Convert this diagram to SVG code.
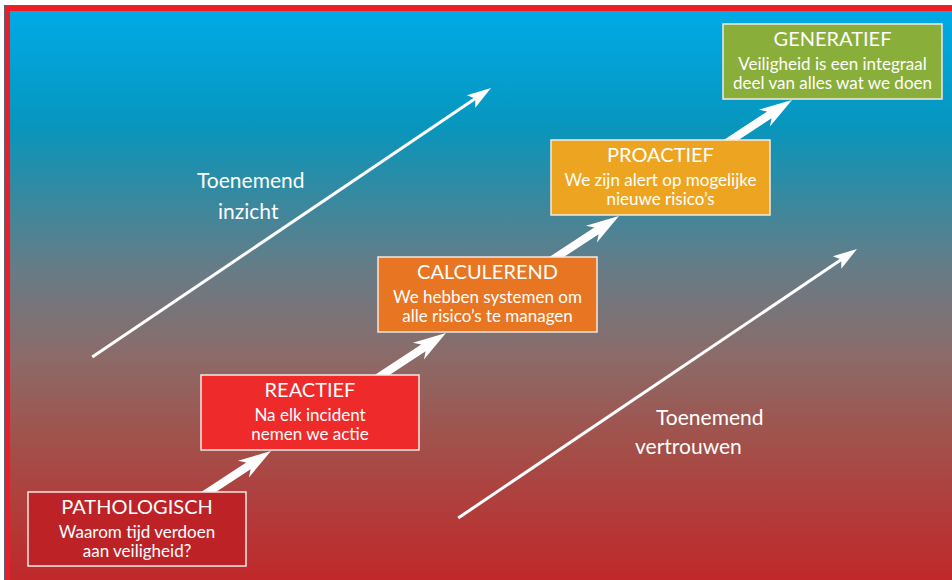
<svg xmlns="http://www.w3.org/2000/svg" xmlns:xlink="http://www.w3.org/1999/xlink" width="952" height="580" viewBox="0 0 952 580">
  <defs>
    <linearGradient id="bg" x1="0" y1="11" x2="0" y2="580" gradientUnits="userSpaceOnUse">
      <stop offset="0" stop-color="#00AAE6"/>
      <stop offset="0.2" stop-color="#0796BE"/>
      <stop offset="0.3" stop-color="#2C8CA5"/>
      <stop offset="0.45" stop-color="#667C87"/>
      <stop offset="0.6" stop-color="#8A6C6A"/>
      <stop offset="0.76" stop-color="#A3504A"/>
      <stop offset="1" stop-color="#C0282A"/>
    </linearGradient>
    <polygon id="thick" points="-90,-4 -27,-4 -33,-10 0,0 -33,10 -27,4 -90,4" fill="#FFFFFF"/>
    <g id="thin">
      <line x1="-481" y1="0" x2="-18" y2="0" stroke="#FFFFFF" stroke-width="3"/>
      <polygon points="0,0 -24,-7.5 -19,0 -24,7.5" fill="#FFFFFF"/>
    </g>
  </defs>
  <style>
    .box { stroke: #F3E9E4; stroke-width: 1.5; }
    .title { font-family: Lato, "Liberation Sans", sans-serif; font-size: 20px; fill: #FFFFFF; text-anchor: middle; }
    .sub { font-family: Lato, "Liberation Sans", sans-serif; font-size: 17px; fill: #FFFFFF; text-anchor: middle; }
    .lbl { font-family: Lato, "Liberation Sans", sans-serif; font-size: 21px; fill: #FFFFFF; }
  </style>

  <rect x="0" y="0" width="952" height="580" fill="#FFFFFF"/>
  <rect x="4" y="5" width="948" height="575" fill="#EE1C25"/>
  <path d="M4.5,580 V5.5 H952" fill="none" stroke="#5A6078" stroke-width="1"/>
  <rect x="10" y="11" width="942" height="569" fill="url(#bg)"/>

  <g id="connectors">
    <use xlink:href="#thin" transform="translate(491,88) rotate(-34)"/>
    <use xlink:href="#thin" transform="translate(857,249) rotate(-34)"/>
    <use xlink:href="#thick" transform="translate(271,451) rotate(-33.3)"/>
    <use xlink:href="#thick" transform="translate(446,333) rotate(-33.3)"/>
    <use xlink:href="#thick" transform="translate(619,216) rotate(-33.3)"/>
    <use xlink:href="#thick" transform="translate(792,100) rotate(-33.3)"/>
  </g>

  <g id="label-inzicht">
    <text class="lbl" x="197" y="188">Toenemend</text>
    <text class="lbl" x="218" y="219">inzicht</text>
  </g>
  <g id="label-vertrouwen">
    <text class="lbl" x="656" y="425">Toenemend</text>
    <text class="lbl" x="635" y="454">vertrouwen</text>
  </g>

  <g id="pathologisch">
    <rect class="box" x="28" y="492" width="218" height="74" fill="#BD2227"/>
    <text class="title" x="137" y="514">PATHOLOGISCH</text>
    <text class="sub" x="137" y="538">Waarom tijd verdoen</text>
    <text class="sub" x="137" y="557">aan veiligheid?</text>
  </g>
  <g id="reactief">
    <rect class="box" x="201" y="375" width="218" height="75" fill="#EE2A2A"/>
    <text class="title" x="310" y="397">REACTIEF</text>
    <text class="sub" x="310" y="421">Na elk incident</text>
    <text class="sub" x="310" y="440">nemen we actie</text>
  </g>
  <g id="calculerend">
    <rect class="box" x="378" y="257" width="219" height="75" fill="#E87522"/>
    <text class="title" x="487.5" y="279">CALCULEREND</text>
    <text class="sub" x="487.5" y="303">We hebben systemen om</text>
    <text class="sub" x="487.5" y="322">alle risico’s te managen</text>
  </g>
  <g id="proactief">
    <rect class="box" x="551" y="140" width="219" height="75" fill="#EDA521"/>
    <text class="title" x="660.5" y="162">PROACTIEF</text>
    <text class="sub" x="660.5" y="186">We zijn alert op mogelijke</text>
    <text class="sub" x="660.5" y="205">nieuwe risico’s</text>
  </g>
  <g id="generatief">
    <rect class="box" x="723" y="24" width="219" height="75" fill="#89AE3A"/>
    <text class="title" x="832.5" y="46">GENERATIEF</text>
    <text class="sub" x="832.5" y="70">Veiligheid is een integraal</text>
    <text class="sub" x="832.5" y="89">deel van alles wat we doen</text>
  </g>
</svg>
